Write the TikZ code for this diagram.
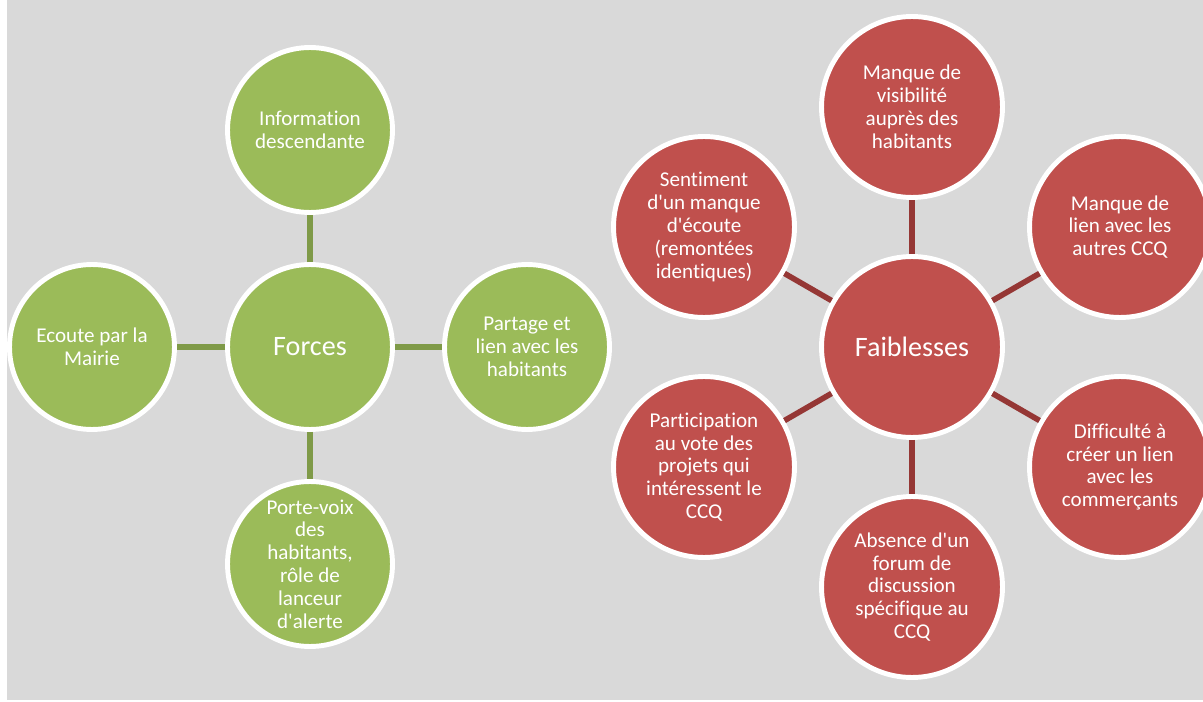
\documentclass[tikz,border=0pt]{standalone}
\usepackage{fontspec}
\setmainfont{Carlito}[Ligatures={TeXOff,NoCommon}]
\usepackage{xcolor}
\definecolor{bgGrey}{HTML}{D9D9D9}
\definecolor{forceFill}{HTML}{9BBB59}
\definecolor{forceLine}{HTML}{7F9A48}
\definecolor{weakFill}{HTML}{C0504D}
\definecolor{weakLine}{HTML}{953735}

\begin{document}
\begin{tikzpicture}[x=0.02cm, y=-0.02cm,
  bubble/.style={circle, draw=white, line width=2.8pt, inner sep=0pt,
                 text=white, align=center, font=\fontsize{12}{13}\selectfont},
  force/.style={bubble, fill=forceFill, minimum size=3.3cm},
  weak/.style={bubble, fill=weakFill, minimum size=3.62cm},
  hub/.style={font=\fontsize{16}{19}\selectfont}]
\useasboundingbox (0,0) rectangle (1203,702);
\fill[bgGrey] (7,0) rectangle (1203,700);

% forces
\node[force, hub] (forces) at (310,347) {Forces};
\node[force] (info) at (310,130) {Information\\descendante};
\node[force] (ecoute) at (92,347) {Ecoute par la\\Mairie};
\node[force] (partage) at (527,347) {Partage et\\lien avec les\\habitants};
\node[force] (porte) at (310,564) {Porte-voix\\des\\habitants,\\rôle de\\lanceur\\d'alerte};
\foreach \n in {info,ecoute,partage,porte}
  \draw[forceLine, line width=3.2pt] (forces) -- (\n);

% faiblesses
\node[weak, hub] (faib) at (912,347) {Faiblesses};
\node[weak] (visib) at (912,107) {Manque de\\visibilité\\auprès des\\habitants};
\node[weak] (ccq) at (1120,227) {Manque de\\lien avec les\\autres CCQ};
\node[weak] (comm) at (1120,467) {Difficulté à\\créer un lien\\avec les\\commerçants};
\node[weak] (forum) at (912,587) {Absence d'un\\forum de\\discussion\\spécifique au\\CCQ};
\node[weak] (vote) at (704,467) {Participation\\au vote des\\projets qui\\intéressent le\\CCQ};
\node[weak] (sentiment) at (704,227) {Sentiment\\d'un manque\\d'écoute\\(remontées\\identiques)};
\foreach \n in {visib,ccq,comm,forum,vote,sentiment}
  \draw[weakLine, line width=3.2pt] (faib) -- (\n);
\end{tikzpicture}
\end{document}
